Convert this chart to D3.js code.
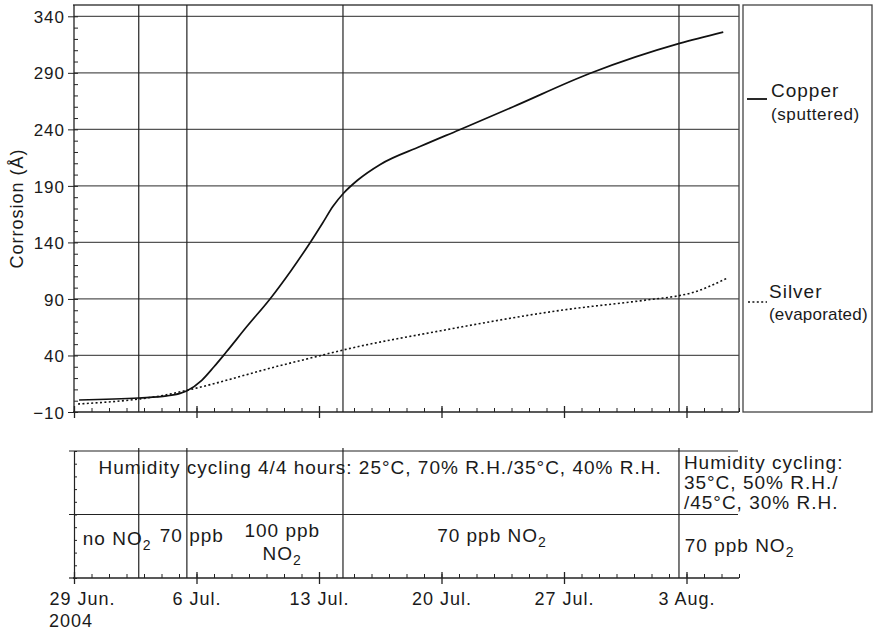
<!DOCTYPE html>
<html>
<head>
<meta charset="utf-8">
<script src="https://cdn.jsdelivr.net/npm/d3@7"></script>
<style>
    body { margin: 0; background: #fff; }
    svg text { font-family: "Liberation Sans", Arial, sans-serif; fill: #1a1a1a; letter-spacing: 1px; }
</style>
</head>
<body>
<div id="chart"></div>
<script>
// x values are days after 29 Jun. 2004, y values corrosion in Å
const copperDays = [0.29, 3.71, 5.3, 6.06, 6.46, 7.3, 8.0, 8.7, 9.9, 11.2, 12.4, 13.5, 14.2, 14.8, 15.4, 16.2, 17.5, 19.8, 22.0, 25.1, 29.5, 34.6, 37.1];
const copperValues = [0.6, 2.4, 4.2, 6.5, 8.8, 18, 30, 43, 66, 90, 115, 140, 157, 172, 183.5, 195, 209, 225, 239.5, 260, 289.6, 316, 326];
const silverDays = [0.23, 3.71, 4.9, 6.46, 11.77, 14.06, 15.37, 20.97, 27.94, 32.74, 34.57, 35.2, 37.31];
const silverValues = [-2.9, 1.5, 4.1, 9.2, 31, 39.8, 44.8, 61.9, 80.2, 89.1, 92.9, 95, 108.3];

const yTicks = [-10, 40, 90, 140, 190, 240, 290, 340];
const dateTickDays = [0, 7, 14, 21, 28, 35];
const dateTickLabels = ["29 Jun.", "6 Jul.", "13 Jul.", "20 Jul.", "27 Jul.", "3 Aug."];
const eventDays = [3.7, 6.45, 15.37, 34.57];   // changes of exposure conditions

drawChart();

function drawChart() {
    const width = 875, height = 630;
    const start = Date.UTC(2004, 5, 29);
    const toDate = d => new Date(start + d * 864e5);

    const svg = d3.select("#chart").append("svg")
        .attr("width", width)
        .attr("height", height);

    const x = d3.scaleUtc()
        .domain([toDate(0), toDate(38)])
        .range([74, 739]);

    const y = d3.scaleLinear()
        .domain([-10, 350])
        .range([412, 5]);

    // lower panel: just a frame with 10 small divisions
    const low = d3.scaleLinear()
        .domain([0, 10])
        .range([578, 451]);

    const ink = "#222";

    // 网格线
    svg.append("g")
        .selectAll("line")
        .data(yTicks.slice(1))
        .enter().append("line")
        .attr("x1", x.range()[0]).attr("x2", x.range()[1])
        .attr("y1", d => y(d)).attr("y2", d => y(d))
        .attr("stroke", "#555").attr("stroke-width", 1.3);

    // frame top / right
    svg.append("path")
        .attr("d", `M${x.range()[0] - 1},${y(350)}H${x.range()[1]}V${y(-10)}`)
        .attr("fill", "none").attr("stroke", "#444").attr("stroke-width", 1.3);

    // event lines in both panels
    svg.append("g")
        .selectAll("line")
        .data(eventDays)
        .enter().append("line")
        .attr("x1", d => x(toDate(d))).attr("x2", d => x(toDate(d)))
        .attr("y1", y(350)).attr("y2", y(-10))
        .attr("stroke", ink).attr("stroke-width", 1.2);
    svg.append("g")
        .selectAll("line")
        .data(eventDays)
        .enter().append("line")
        .attr("x1", d => x(toDate(d))).attr("x2", d => x(toDate(d)))
        .attr("y1", low(10) - 3).attr("y2", low(0))
        .attr("stroke", ink).attr("stroke-width", 1.2);

    // Y轴
    const yAxis = svg.append("g")
        .attr("transform", `translate(${x.range()[0]},0)`)
        .call(d3.axisLeft(y).tickValues(yTicks).tickSize(6).tickPadding(3).tickFormat(d => d < 0 ? "\u2212" + (-d) : d));
    yAxis.select(".domain").remove();
    yAxis.selectAll("text").attr("font-size", 17).attr("fill", "#1a1a1a").attr("dy", "0.36em");
    yAxis.selectAll("line").attr("stroke", ink);

    const yMinor = svg.append("g")
        .attr("transform", `translate(${x.range()[0]},0)`)
        .call(d3.axisRight(y).tickValues(d3.range(-10, 350, 10)).tickSize(4).tickFormat(""));
    yMinor.select(".domain").remove();
    yMinor.selectAll("line").attr("stroke", ink);

    svg.append("line")
        .attr("x1", x.range()[0]).attr("x2", x.range()[0])
        .attr("y1", y(350)).attr("y2", y(-10))
        .attr("stroke", ink).attr("stroke-width", 1.3);

    svg.append("text")
        .attr("transform", `translate(23,${(y(350) + y(-10)) / 2}) rotate(-90)`)
        .attr("text-anchor", "middle")
        .attr("font-size", 18)
        .text("Corrosion (Å)");

    // X轴 (main panel and lower panel)
    dateAxis(svg, x, toDate, y(-10), false);
    dateAxis(svg, x, toDate, low(0), true);

    // lower panel frame
    svg.append("g")
        .selectAll("line")
        .data([5, 10])
        .enter().append("line")
        .attr("x1", x.range()[0] - 5).attr("x2", x.range()[1] - 1)
        .attr("y1", d => low(d)).attr("y2", d => low(d))
        .attr("stroke", ink).attr("stroke-width", 1.2);

    const lowAxis = svg.append("g")
        .attr("transform", `translate(${x.range()[0]},0)`)
        .call(d3.axisRight(low).ticks(10).tickSize(3).tickFormat(""));
    lowAxis.select(".domain").attr("stroke", ink).attr("stroke-width", 1.2);
    lowAxis.selectAll("line").attr("stroke", ink);
    svg.append("line")
        .attr("x1", x.range()[0] - 5).attr("x2", x.range()[0])
        .attr("y1", low(0)).attr("y2", low(0))
        .attr("stroke", ink).attr("stroke-width", 1.2);

    // 曲线
    const line = d3.line()
        .x(d => x(toDate(d[0])))
        .y(d => y(d[1]))
        .curve(d3.curveMonotoneX);

    svg.append("path")
        .datum(d3.zip(copperDays, copperValues))
        .attr("d", line)
        .attr("fill", "none")
        .attr("stroke", "#111")
        .attr("stroke-width", 1.7);

    svg.append("path")
        .datum(d3.zip(silverDays, silverValues))
        .attr("d", line)
        .attr("fill", "none")
        .attr("stroke", "#111")
        .attr("stroke-width", 1.6)
        .attr("stroke-dasharray", "2,2.4");

    // 图例
    svg.append("rect")
        .attr("x", 743).attr("y", y(350))
        .attr("width", 129).attr("height", y(-10) - y(350))
        .attr("fill", "none").attr("stroke", "#444").attr("stroke-width", 1.3);

    svg.append("line")
        .attr("x1", 747).attr("x2", 767).attr("y1", 99).attr("y2", 99)
        .attr("stroke", "#111").attr("stroke-width", 1.8);
    svg.append("line")
        .attr("x1", 748).attr("x2", 767).attr("y1", 302).attr("y2", 302)
        .attr("stroke", "#111").attr("stroke-width", 1.6).attr("stroke-dasharray", "2,2.4");

    legendText(svg, 771, 97, "Copper", 19, 1);
    legendText(svg, 771, 120, "(sputtered)", 17, 0.6);
    legendText(svg, 769, 298, "Silver", 19, 1);
    legendText(svg, 769, 320, "(evaporated)", 17, 0.2);

    // 暴露条件标注
    note(svg, x(toDate(1.4)), 474, "Humidity cycling 4/4 hours: 25°C, 70% R.H./35°C, 40% R.H.");
    note(svg, x(toDate(34.85)), 469, "Humidity cycling:");
    note(svg, x(toDate(34.85)), 489, "35°C, 50% R.H./");
    note(svg, x(toDate(34.85)), 509, "/45°C, 30% R.H.");

    noteNO2(svg, x(toDate(0.5)), 545, "no NO", "2");
    note(svg, x(toDate(4.9)), 542, "70 ppb");
    note(svg, x(toDate(11.9)), 537, "100 ppb").attr("text-anchor", "middle");
    noteNO2(svg, x(toDate(11.9)), 560, "NO", "2").attr("text-anchor", "middle");
    noteNO2(svg, x(toDate(20.75)), 542, "70 ppb NO", "2");
    noteNO2(svg, x(toDate(34.9)), 552, "70 ppb NO", "2");
}

function dateAxis(svg, x, toDate, yPos, withLabels) {
    const ink = "#222";
    const minor = svg.append("g")
        .attr("transform", `translate(0,${yPos})`)
        .call(d3.axisTop(x).ticks(d3.utcDay).tickSize(4).tickFormat(""));
    minor.select(".domain").attr("stroke", ink).attr("stroke-width", 1.3)
        .attr("d", `M${x.range()[0] - 1},0H${x.range()[1]}`);
    minor.selectAll("line").attr("stroke", ink);

    const major = svg.append("g")
        .attr("transform", `translate(0,${yPos})`)
        .call(d3.axisBottom(x)
            .tickValues(dateTickDays.map(toDate))
            .tickSize(6)
            .tickPadding(8)
            .tickFormat((d, i) => withLabels ? dateTickLabels[i] : ""));
    major.select(".domain").remove();
    major.selectAll("line").attr("y1", -6).attr("y2", 6).attr("stroke", ink).attr("stroke-width", 1.3);
    major.selectAll("text").attr("font-size", 18).attr("fill", "#1a1a1a");

    if (withLabels) {
        // first label is left aligned with the year under it
        major.selectAll("text").filter((d, i) => i === 0)
            .attr("text-anchor", "start").attr("dx", -25);
        svg.append("text")
            .attr("x", x(toDate(0)) - 25)
            .attr("y", yPos + 49)
            .attr("font-size", 18)
            .text("2004");
    }
}

function legendText(svg, x, y, txt, size, spacing) {
    return svg.append("text")
        .attr("x", x).attr("y", y)
        .attr("font-size", size)
        .style("letter-spacing", spacing + "px")
        .text(txt);
}

function note(svg, x, y, txt) {
    return svg.append("text")
        .attr("x", x).attr("y", y)
        .attr("font-size", 19)
        .text(txt);
}

function noteNO2(svg, x, y, txt, sub) {
    const t = svg.append("text")
        .attr("x", x).attr("y", y)
        .attr("font-size", 19);
    t.append("tspan").text(txt);
    t.append("tspan").attr("font-size", 14).attr("dy", 5).text(sub);
    return t;
}
</script>
</body>
</html>
